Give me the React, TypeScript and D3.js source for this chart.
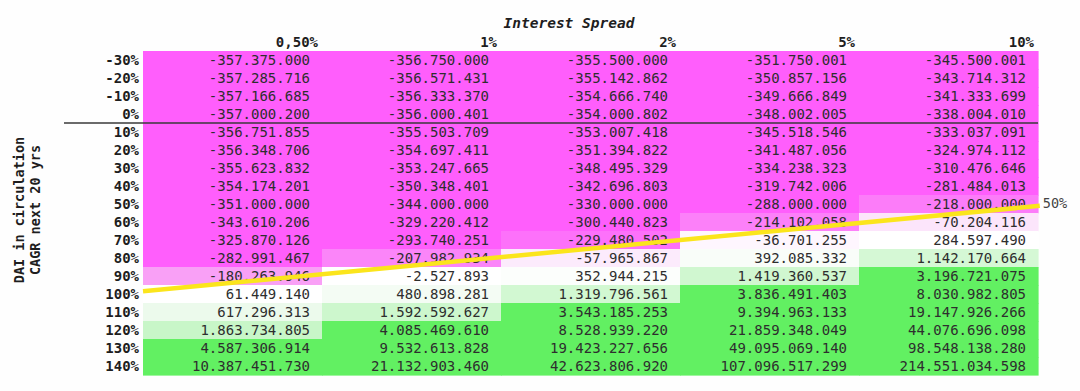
import * as d3 from "d3";

// Interest spread columns and CAGR rows
const spreads = ["0,50%", "1%", "2%", "5%", "10%"];
const cagrRows = [
  "-30%", "-20%", "-10%", "0%", "10%", "20%", "30%", "40%", "50%",
  "60%", "70%", "80%", "90%", "100%", "110%", "120%", "130%", "140%",
];

// one array per spread column, top row (-30%) first
const spread050 = [
  -357375000, -357285716, -357166685, -357000200, -356751855, -356348706,
  -355623832, -354174201, -351000000, -343610206, -325870126, -282991467,
  -180263946, 61449140, 617296313, 1863734805, 4587306914, 10387451730,
];
const spread1 = [
  -356750000, -356571431, -356333370, -356000401, -355503709, -354697411,
  -353247665, -350348401, -344000000, -329220412, -293740251, -207982934,
  -2527893, 480898281, 1592592627, 4085469610, 9532613828, 21132903460,
];
const spread2 = [
  -355500000, -355142862, -354666740, -354000802, -353007418, -351394822,
  -348495329, -342696803, -330000000, -300440823, -229480502, -57965867,
  352944215, 1319796561, 3543185253, 8528939220, 19423227656, 42623806920,
];
const spread5 = [
  -351750001, -350857156, -349666849, -348002005, -345518546, -341487056,
  -334238323, -319742006, -288000000, -214102058, -36701255, 392085332,
  1419360537, 3836491403, 9394963133, 21859348049, 49095069140, 107096517299,
];
const spread10 = [
  -345500001, -343714312, -341333699, -338004010, -333037091, -324974112,
  -310476646, -281484013, -218000000, -70204116, 284597490, 1142170664,
  3196721075, 8030982805, 19147926266, 44076696098, 98548138280, 214551034598,
];
const columns = [spread050, spread1, spread2, spread5, spread10];

// the yellow break-even line, in table units (columns across, rows down)
const breakEvenLine = [
  { col: 0, row: 13.35 },
  { col: 5.01, row: 8.6 },
];
const breakEvenLabel = "50%";

const yTitle = ["DAI in circulation", "CAGR next 20 yrs"];
const xTitle = "Interest Spread";

const W = 1080;
const H = 391;
const tableLeft = 143;
const tableRight = 1038;
const tableTop = 51;
const tableBottom = 375;

const PINK = "#ff5efc";
const GREEN = "#62f062";

const mono = "'DejaVu Sans Mono', 'Liberation Mono', monospace";

export default function App() {
  const x = d3.scaleBand<string>().domain(spreads).range([tableLeft, tableRight]);
  const y = d3.scaleBand<string>().domain(cagrRows).range([tableTop, tableBottom]);
  const xu = d3.scaleLinear().domain([0, spreads.length]).range([tableLeft, tableRight]);
  const yu = d3.scaleLinear().domain([0, cagrRows.length]).range([tableTop, tableBottom]);

  const color = d3
    .scaleLinear<string>()
    .domain([-250e6, -150e6, -20e6, 300e6, 600e6, 1.1e9, 2e9, 2.6e9])
    .range([PINK, "#f6bcf4", "#ffffff", "#ffffff", "#edfaed", "#d6f8d6", "#c6f6c6", GREEN])
    .clamp(true);

  const fmt = d3
    .formatLocale({ thousands: ".", decimal: ",", grouping: [3], currency: ["", ""], minus: "-" })
    .format(",d");

  const line = d3
    .line<{ col: number; row: number }>()
    .x((d) => xu(d.col))
    .y((d) => yu(d.row));

  const last = breakEvenLine[breakEvenLine.length - 1];
  const bw = x.bandwidth();
  const bh = y.bandwidth();

  return (
    <div style={{ position: "absolute", left: 0, top: 0 }}>
      <svg width={W} height={H} style={{ display: "block", background: "#fefefe" }}>
        {/* cells */}
        {columns.map((vals, ci) =>
          vals.map((v, ri) => (
            <rect
              key={`c${ci}-${ri}`}
              x={x(spreads[ci])}
              y={y(cagrRows[ri])}
              width={bw + 0.6}
              height={bh + 0.6}
              fill={color(v)}
            />
          ))
        )}

        {/* divider between 0% and 10% */}
        <line
          x1={64}
          x2={tableRight}
          y1={y("10%")}
          y2={y("10%")}
          stroke="#3a3a3a"
          strokeWidth={1.4}
        />

        {/* values */}
        {columns.map((vals, ci) =>
          vals.map((v, ri) => (
            <text
              key={`t${ci}-${ri}`}
              x={(x(spreads[ci]) ?? 0) + bw - 12}
              y={(y(cagrRows[ri]) ?? 0) + bh / 2}
              dy="0.36em"
              textAnchor="end"
              fontFamily={mono}
              fontSize={14}
              fill="#2e2e2e"
            >
              {fmt(v)}
            </text>
          ))
        )}

        {/* column headers */}
        {spreads.map((s) => (
          <text
            key={s}
            x={(x(s) ?? 0) + bw - 4}
            y={tableTop - 9}
            dy="0.36em"
            textAnchor="end"
            fontFamily={mono}
            fontWeight="bold"
            fontSize={14}
            fill="#1e1e1e"
          >
            {s}
          </text>
        ))}

        <text
          x={569}
          y={23}
          dy="0.36em"
          textAnchor="middle"
          fontFamily={mono}
          fontWeight="bold"
          fontStyle="italic"
          fontSize={14.5}
          fill="#1e1e1e"
        >
          {xTitle}
        </text>

        {/* row labels */}
        {cagrRows.map((r) => (
          <text
            key={r}
            x={tableLeft - 4}
            y={(y(r) ?? 0) + bh / 2}
            dy="0.36em"
            textAnchor="end"
            fontFamily={mono}
            fontWeight="bold"
            fontSize={14}
            fill="#1e1e1e"
          >
            {r}
          </text>
        ))}

        {/* y title */}
        {yTitle.map((t, i) => (
          <text
            key={t}
            transform={`translate(${24 + i * 16},${210}) rotate(-90)`}
            textAnchor="middle"
            fontFamily={mono}
            fontWeight="bold"
            fontSize={13.5}
            fill="#1e1e1e"
          >
            {t}
          </text>
        ))}

        {/* break-even line */}
        <path
          d={line(breakEvenLine) ?? ""}
          fill="none"
          stroke="#fbe51c"
          strokeWidth={4.5}
        />
        <text
          x={xu(last.col) + 3}
          y={yu(last.row) - 3}
          dy="0.36em"
          fontFamily={mono}
          fontSize={13.5}
          fill="#444"
        >
          {breakEvenLabel}
        </text>
      </svg>
    </div>
  );
}
